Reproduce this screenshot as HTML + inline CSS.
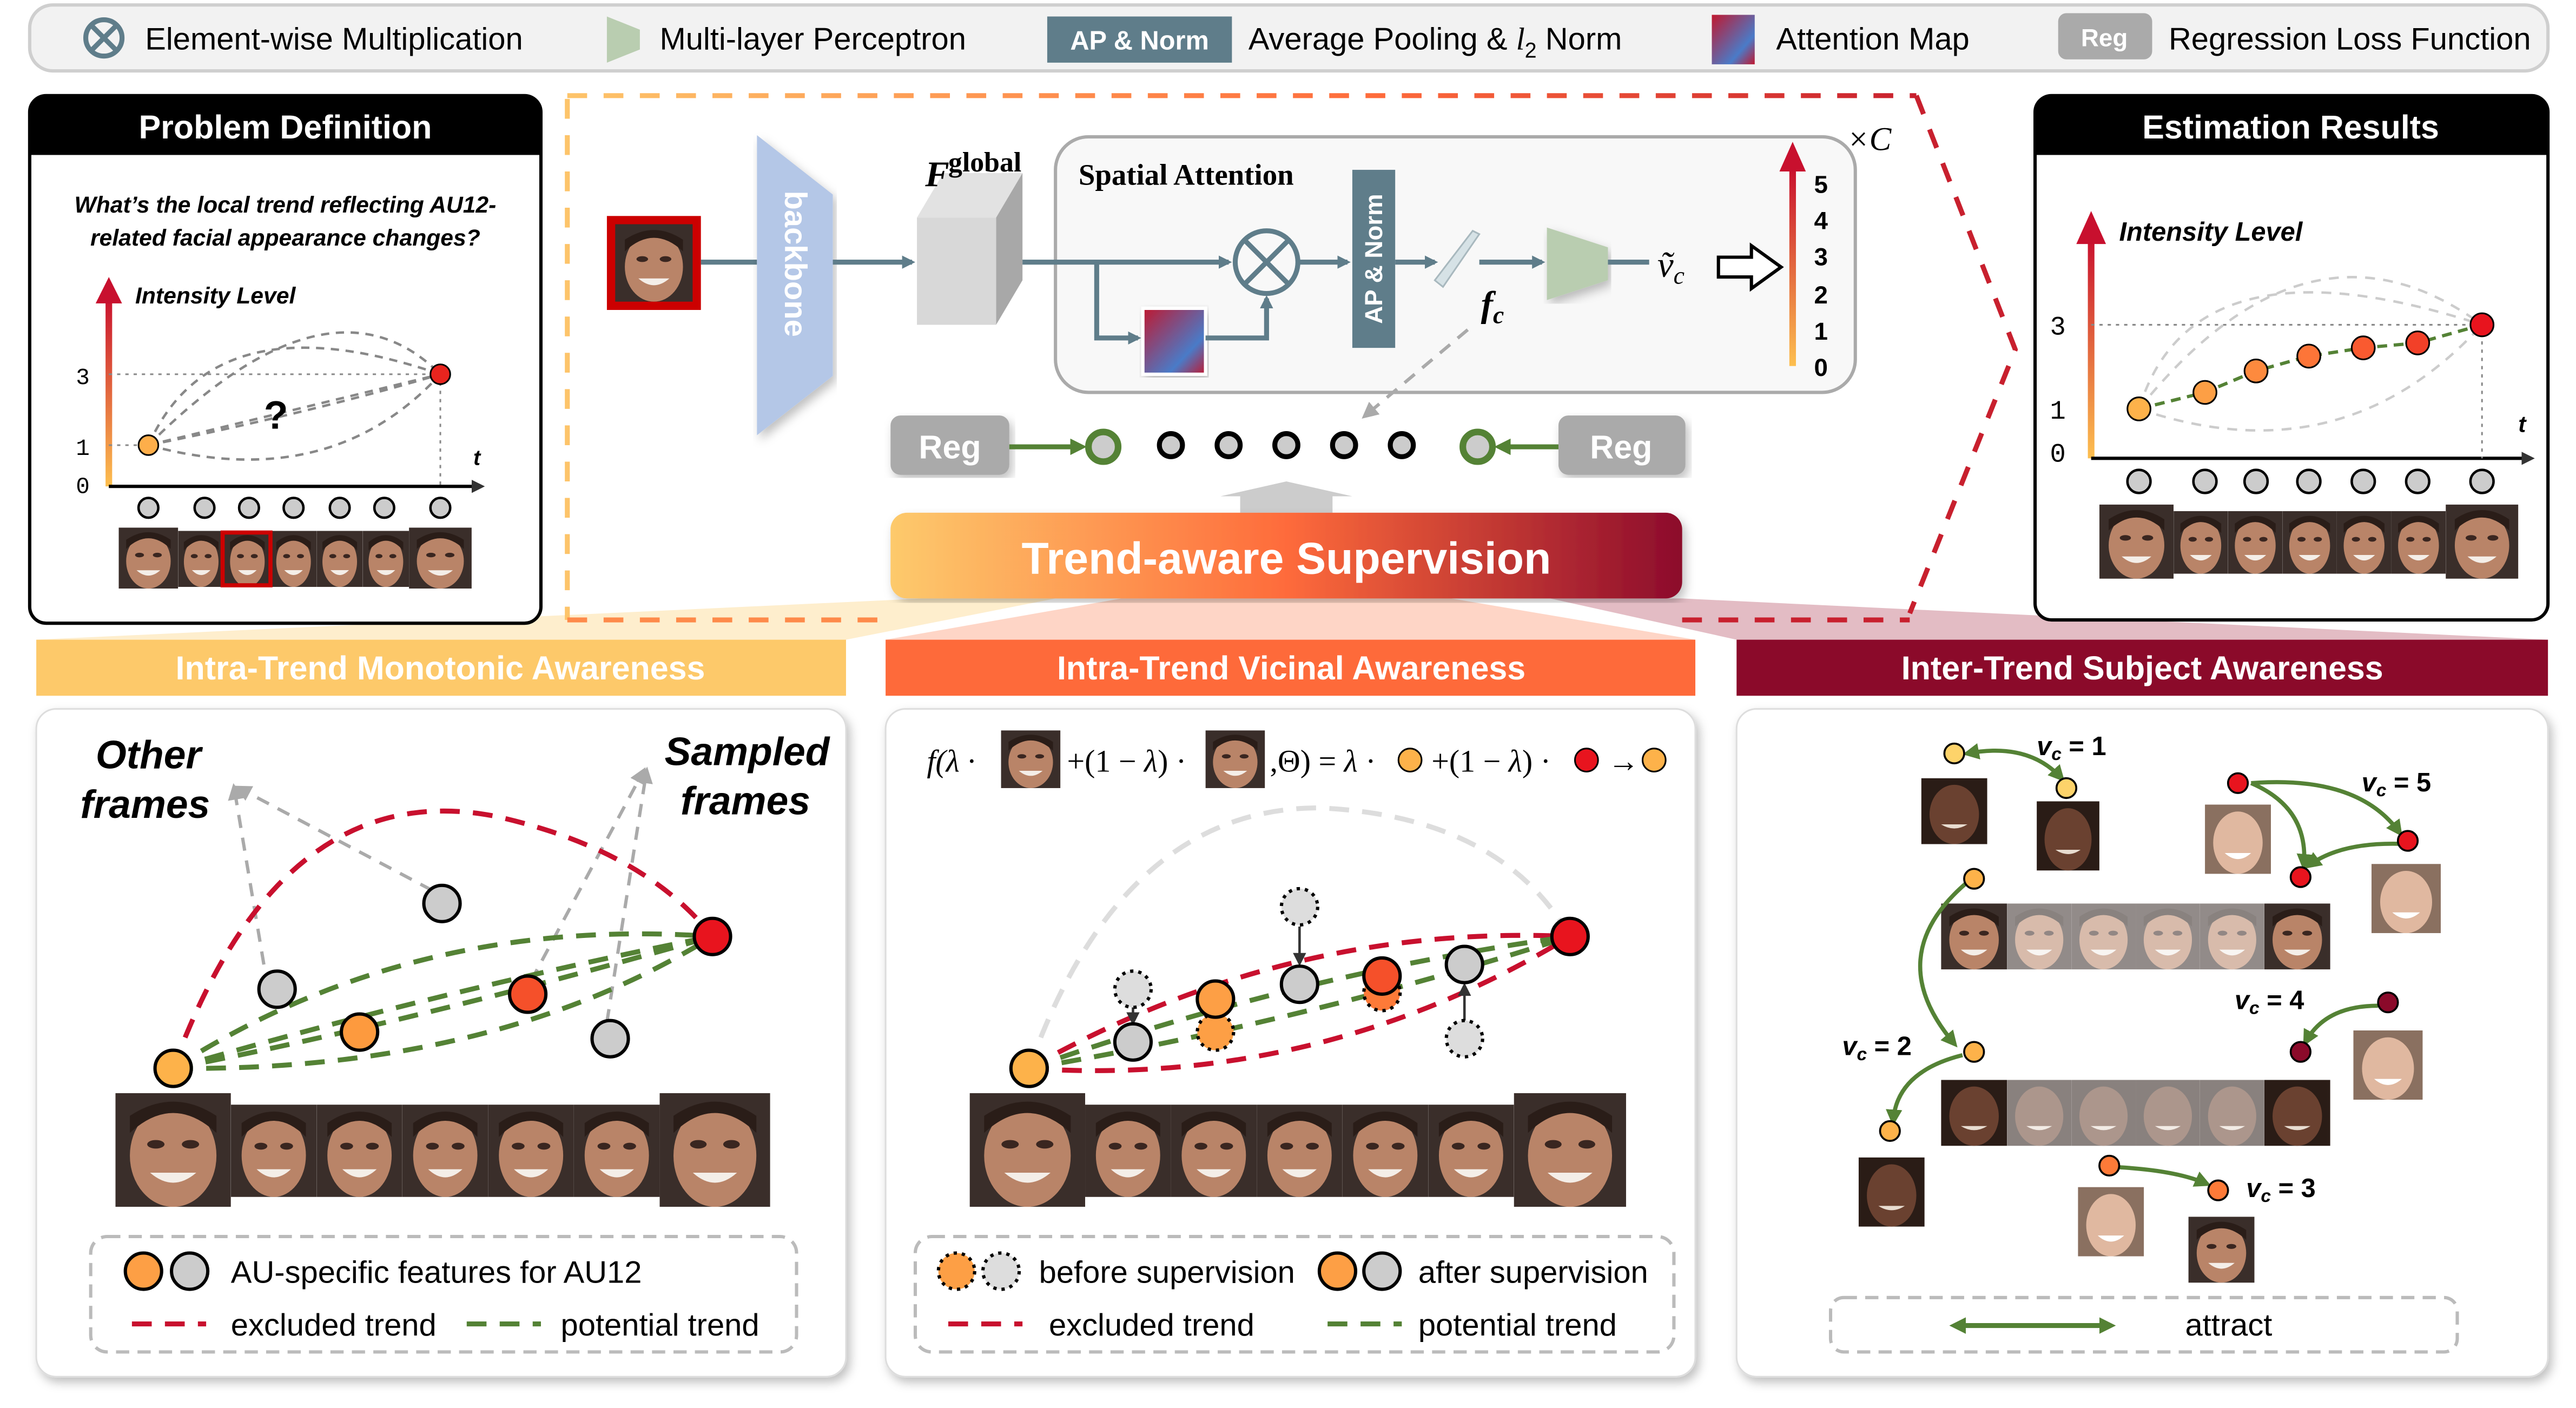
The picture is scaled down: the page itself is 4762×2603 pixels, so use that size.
<!DOCTYPE html>
<html><head><meta charset="utf-8"><style>
html,body{margin:0;padding:0;background:#fff;}
svg{display:block;}
text{font-family:"Liberation Sans",sans-serif;}
.serif{font-family:"Liberation Serif",serif;}
.mono{font-family:"Liberation Mono",monospace;}
</style></head><body>
<svg width="4762" height="2603" viewBox="0 0 1562 854" preserveAspectRatio="none" xmlns="http://www.w3.org/2000/svg">
<defs>
<symbol id="face" viewBox="0 0 40 40" preserveAspectRatio="none">
<rect width="40" height="40" fill="#3a2e2a"/>
<ellipse cx="20" cy="22" rx="15" ry="18" fill="#b98468"/>
<path d="M5 14 Q20 0 35 14 L35 8 Q20 -2 5 8Z" fill="#2a1d18"/>
<ellipse cx="14" cy="18" rx="3" ry="1.5" fill="#3a2620"/><ellipse cx="26" cy="18" rx="3" ry="1.5" fill="#3a2620"/>
<path d="M12 28 Q20 35 28 28 Z" fill="#f4eee8"/>
</symbol>
<symbol id="faced" viewBox="0 0 40 40" preserveAspectRatio="none">
<rect width="40" height="40" fill="#2a1c16"/>
<ellipse cx="20" cy="22" rx="15" ry="18" fill="#6a4130"/>
<path d="M12 28 Q20 33 28 28 Z" fill="#e8dcd0"/>
</symbol>
<symbol id="facel" viewBox="0 0 40 40" preserveAspectRatio="none">
<rect width="40" height="40" fill="#8a7060"/>
<ellipse cx="20" cy="22" rx="15" ry="18" fill="#e0b8a0"/>
<path d="M12 28 Q20 35 28 28 Z" fill="#fff"/>
</symbol>
<linearGradient id="ban" x1="0" x2="1"><stop offset="0" stop-color="#fdca6c"/><stop offset="0.5" stop-color="#fe6b3b"/><stop offset="1" stop-color="#8c0b2c"/></linearGradient>
<linearGradient id="axis" x1="0" y1="1" x2="0" y2="0"><stop offset="0" stop-color="#fdbf4f"/><stop offset="1" stop-color="#c8102e"/></linearGradient>
<linearGradient id="att" x1="0" y1="0" x2="1" y2="1"><stop offset="0" stop-color="#c0182f"/><stop offset="0.7" stop-color="#4a7bc8"/><stop offset="1" stop-color="#c0182f"/></linearGradient>
<linearGradient id="topd" gradientUnits="userSpaceOnUse" x1="344" y1="0" x2="1162" y2="0"><stop offset="0" stop-color="#fdc46a"/><stop offset="0.6" stop-color="#fe6b3b"/><stop offset="1" stop-color="#c8202e"/></linearGradient>
<marker id="ag" markerWidth="8" markerHeight="8" refX="6" refY="4" orient="auto" markerUnits="userSpaceOnUse"><path d="M0 0L8 4L0 8Z" fill="#5f7d8a"/></marker>
<marker id="agr" markerWidth="10" markerHeight="10" refX="7" refY="5" orient="auto-start-reverse" markerUnits="userSpaceOnUse"><path d="M0 0L10 5L0 10Z" fill="#548235"/></marker>
<marker id="agy" markerWidth="10" markerHeight="10" refX="7" refY="5" orient="auto" markerUnits="userSpaceOnUse"><path d="M0 0L10 5L0 10Z" fill="#aaa"/></marker>
<marker id="abk" markerWidth="8" markerHeight="8" refX="6" refY="4" orient="auto" markerUnits="userSpaceOnUse"><path d="M0 0L8 4L0 8Z" fill="#333"/></marker>
<filter id="sh" x="-5%" y="-5%" width="110%" height="110%"><feDropShadow dx="2" dy="3" stdDeviation="3" flood-color="#000" flood-opacity="0.25"/></filter>
</defs>

<rect x="18" y="3" width="1527" height="40" rx="14" fill="#f2f2f2" stroke="#cfcfcf" stroke-width="2"/>
<circle cx="63" cy="23" r="11" fill="none" stroke="#5f7d8a" stroke-width="3"/>
<path d="M55 15L71 31M71 15L55 31" stroke="#5f7d8a" stroke-width="3"/>
<text x="88" y="30" font-size="19">Element-wise Multiplication</text>
<polygon points="368,10 388,18 388,30 368,38" fill="#b9cdb0"/>
<text x="400" y="30" font-size="19">Multi-layer Perceptron</text>
<rect x="635" y="10" width="112" height="28" fill="#5f7d8a"/>
<text x="691" y="30" font-size="16" font-weight="bold" fill="#fff" text-anchor="middle">AP &amp; Norm</text>
<text x="757" y="30" font-size="19">Average Pooling &amp; <tspan font-style="italic" class="serif">l</tspan><tspan font-size="13" dy="5">2</tspan><tspan dy="-5"> Norm</tspan></text>
<rect x="1038" y="9" width="26" height="30" fill="url(#att)"/>
<text x="1077" y="30" font-size="19">Attention Map</text>
<rect x="1248" y="8" width="57" height="28" rx="5" fill="#aaa"/>
<text x="1276" y="28" font-size="15" font-weight="bold" fill="#fff" text-anchor="middle">Reg</text>
<text x="1315" y="30" font-size="19">Regression Loss Function</text>

<polygon points="560,363 640,363 513,388 22,388" fill="#fde7b8" opacity="0.7"/>
<polygon points="680,363 880,363 1028,388 537,388" fill="#fdb9a0" opacity="0.6"/>
<polygon points="940,363 1020,363 1545,388 1053,388" fill="#c87a8a" opacity="0.5"/>

<line x1="344" y1="60" x2="344" y2="376" stroke="#fdc46a" stroke-width="3" stroke-dasharray="12,10"/>
<line x1="344" y1="58" x2="1162" y2="58" stroke="url(#topd)" stroke-width="3" stroke-dasharray="12,10"/>
<polyline points="1162,58 1222,212 1158,372" fill="none" stroke="#c8202e" stroke-width="3" stroke-dasharray="12,10"/>
<line x1="344" y1="376" x2="540" y2="376" stroke="#fe8a4a" stroke-width="3" stroke-dasharray="12,10"/>
<line x1="1020" y1="376" x2="1158" y2="376" stroke="#c8202e" stroke-width="3" stroke-dasharray="12,10"/>

<rect x="18" y="58" width="310" height="320" rx="10" fill="#fff" stroke="#000" stroke-width="2"/>
<path d="M28 58H318Q328 58 328 68V94H18V68Q18 58 28 58Z" fill="#000"/>
<text x="173" y="84" font-size="20" font-weight="bold" fill="#fff" text-anchor="middle">Problem Definition</text>
<text x="173" y="129" font-size="14" font-weight="bold" font-style="italic" text-anchor="middle">What’s the local trend reflecting AU12-</text>
<text x="173" y="149" font-size="14" font-weight="bold" font-style="italic" text-anchor="middle">related facial appearance changes?</text>
<rect x="64" y="180" width="4" height="115" fill="url(#axis)"/>
<polygon points="58,184 66,168 74,184" fill="#c8102e"/>
<text x="82" y="184" font-size="14" font-weight="bold" font-style="italic">Intensity Level</text>
<text x="46" y="233" font-size="14" class="mono">3</text>
<text x="46" y="276" font-size="14" class="mono">1</text>
<text x="46" y="299" font-size="14" class="mono">0</text>
<line x1="66" y1="295" x2="292" y2="295" stroke="#000" stroke-width="2" marker-end="url(#abk)"/>
<text x="287" y="282" font-size="13" font-weight="bold" font-style="italic">t</text>
<line x1="66" y1="227" x2="267" y2="227" stroke="#888" stroke-dasharray="2,3"/>
<line x1="267" y1="227" x2="267" y2="295" stroke="#888" stroke-dasharray="2,3"/>
<line x1="66" y1="270" x2="90" y2="270" stroke="#888" stroke-dasharray="2,3"/>
<g fill="none" stroke="#888" stroke-width="1.5" stroke-dasharray="5,4">
<path d="M90 270 Q130 180 267 227"/><path d="M90 270 Q200 160 267 227"/><path d="M90 270 Q190 250 267 227"/><path d="M90 270 Q200 300 267 227"/><path d="M90 270 L267 227"/>
</g>
<text x="160" y="260" font-size="24" font-weight="bold">?</text>
<circle cx="90" cy="270" r="6" fill="#fdae4a" stroke="#000"/>
<circle cx="267" cy="227" r="6" fill="#e8241e" stroke="#000"/>
<g fill="#ccc" stroke="#000" stroke-width="1.5">
<circle cx="90" cy="308" r="6"/><circle cx="124" cy="308" r="6"/><circle cx="151" cy="308" r="6"/><circle cx="178" cy="308" r="6"/><circle cx="206" cy="308" r="6"/><circle cx="233" cy="308" r="6"/><circle cx="267" cy="308" r="6"/>
</g>
<use href="#face" x="72" y="320" width="36" height="37"/><use href="#face" x="108" y="322" width="28" height="34"/><use href="#face" x="136" y="322" width="28" height="34"/><use href="#face" x="164" y="322" width="28" height="34"/><use href="#face" x="192" y="322" width="28" height="34"/><use href="#face" x="220" y="322" width="28" height="34"/><use href="#face" x="248" y="320" width="38" height="37"/>
<rect x="135" y="323" width="29" height="32" fill="none" stroke="#c00" stroke-width="2.5"/>

<rect x="1234" y="58" width="311" height="318" rx="10" fill="#fff" stroke="#000" stroke-width="2"/>
<path d="M1244 58H1535Q1545 58 1545 68V94H1234V68Q1234 58 1244 58Z" fill="#000"/>
<text x="1389" y="84" font-size="20" font-weight="bold" fill="#fff" text-anchor="middle">Estimation Results</text>
<rect x="1266" y="145" width="4" height="133" fill="url(#axis)"/>
<polygon points="1259,148 1268,128 1277,148" fill="#c8102e"/>
<text x="1285" y="146" font-size="16" font-weight="bold" font-style="italic">Intensity Level</text>
<text x="1243" y="203" font-size="16" class="mono">3</text>
<text x="1243" y="254" font-size="16" class="mono">1</text>
<text x="1243" y="280" font-size="16" class="mono">0</text>
<line x1="1268" y1="278" x2="1535" y2="278" stroke="#000" stroke-width="2" marker-end="url(#abk)"/>
<text x="1527" y="262" font-size="14" font-weight="bold" font-style="italic">t</text>
<line x1="1268" y1="197" x2="1505" y2="197" stroke="#888" stroke-dasharray="2,3"/>
<line x1="1505" y1="197" x2="1505" y2="278" stroke="#888" stroke-dasharray="2,3"/>
<g fill="none" stroke="#ccc" stroke-width="1.5" stroke-dasharray="6,5">
<path d="M1297 248 Q1330 140 1505 197"/><path d="M1297 248 Q1400 120 1505 197"/><path d="M1297 248 Q1420 290 1505 197"/>
</g>
<polyline points="1297,248 1337,238 1368,225 1400,216 1433,211 1466,208 1505,197" fill="none" stroke="#548235" stroke-width="2" stroke-dasharray="6,4"/>
<circle cx="1297" cy="248" r="7" fill="#fdb24a" stroke="#000"/><circle cx="1337" cy="238" r="7" fill="#fd9f45" stroke="#000"/><circle cx="1368" cy="225" r="7" fill="#fd8a3e" stroke="#000"/><circle cx="1400" cy="216" r="7" fill="#fd7538" stroke="#000"/><circle cx="1433" cy="211" r="7" fill="#fa5a30" stroke="#000"/><circle cx="1466" cy="208" r="7" fill="#f24028" stroke="#000"/><circle cx="1505" cy="197" r="7" fill="#e8141e" stroke="#000"/>
<g fill="#ccc" stroke="#000" stroke-width="1.5">
<circle cx="1297" cy="292" r="7"/><circle cx="1337" cy="292" r="7"/><circle cx="1368" cy="292" r="7"/><circle cx="1400" cy="292" r="7"/><circle cx="1433" cy="292" r="7"/><circle cx="1466" cy="292" r="7"/><circle cx="1505" cy="292" r="7"/>
</g>
<use href="#face" x="1273" y="306" width="45" height="45"/><use href="#face" x="1318" y="310" width="33" height="38"/><use href="#face" x="1351" y="310" width="33" height="38"/><use href="#face" x="1384" y="310" width="33" height="38"/><use href="#face" x="1417" y="310" width="33" height="38"/><use href="#face" x="1450" y="310" width="33" height="38"/><use href="#face" x="1483" y="306" width="44" height="45"/>

<rect x="368" y="131" width="57" height="57" fill="#c00"/>
<use href="#face" x="373" y="136" width="47" height="47"/>
<line x1="425" y1="159" x2="459" y2="159" stroke="#5f7d8a" stroke-width="3"/>
<polygon points="459,82 505,118 505,228 459,264" fill="#b4c7e7" filter="url(#sh)"/>
<text transform="translate(476,160) rotate(90)" font-size="19" font-weight="bold" fill="#fff" text-anchor="middle">backbone</text>
<line x1="505" y1="159" x2="553" y2="159" stroke="#5f7d8a" stroke-width="3" marker-end="url(#ag)"/>
<polygon points="556,132 572,105 620,105 604,132" fill="#e2e2e2"/>
<polygon points="604,132 620,105 620,170 604,197" fill="#a8a8a8"/>
<rect x="556" y="132" width="48" height="65" fill="#d8d8d8"/>
<text x="561" y="113" font-size="22" font-weight="bold" font-style="italic" class="serif">F</text>
<text x="575" y="104" font-size="17" font-weight="bold" class="serif">global</text>
<rect x="640" y="83" width="485" height="155" rx="20" fill="#f8f8f8" stroke="#aaa" stroke-width="2"/>
<text x="654" y="112" font-size="18" font-weight="bold" class="serif">Spatial Attention</text>
<line x1="620" y1="159" x2="745" y2="159" stroke="#5f7d8a" stroke-width="3" marker-end="url(#ag)"/>
<circle cx="768" cy="159" r="19" fill="none" stroke="#5f7d8a" stroke-width="3"/>
<path d="M755 146L781 172M781 146L755 172" stroke="#5f7d8a" stroke-width="3"/>
<polyline points="665,159 665,205 690,205" fill="none" stroke="#5f7d8a" stroke-width="3" marker-end="url(#ag)"/>
<rect x="693" y="187" width="38" height="40" fill="url(#att)" stroke="#fff" stroke-width="2" filter="url(#sh)"/>
<polyline points="731,205 768,205 768,181" fill="none" stroke="#5f7d8a" stroke-width="3" marker-end="url(#ag)"/>
<line x1="788" y1="159" x2="817" y2="159" stroke="#5f7d8a" stroke-width="3" marker-end="url(#ag)"/>
<rect x="820" y="103" width="26" height="108" fill="#5f7d8a"/>
<text transform="translate(838,157) rotate(-90)" font-size="15" font-weight="bold" fill="#fff" text-anchor="middle">AP &amp; Norm</text>
<line x1="846" y1="159" x2="870" y2="159" stroke="#5f7d8a" stroke-width="3" marker-end="url(#ag)"/>
<polygon points="870,170 893,140 897,142 875,174" fill="#d6e2e6" stroke="#a8b8be"/>
<line x1="897" y1="159" x2="935" y2="159" stroke="#5f7d8a" stroke-width="3" marker-end="url(#ag)"/>
<polygon points="938,138 975,150 975,170 938,182" fill="#b9cdb0" filter="url(#sh)"/>
<line x1="975" y1="159" x2="1000" y2="159" stroke="#5f7d8a" stroke-width="3"/>
<text x="898" y="192" font-size="22" font-weight="bold" font-style="italic" class="serif">f<tspan font-size="15" dy="4">c</tspan></text>
<text x="1005" y="168" font-size="22" font-style="italic" class="serif">ṽ<tspan font-size="15" dy="4">c</tspan></text>
<polygon points="1042,156 1062,156 1062,149 1080,162 1062,175 1062,168 1042,168" fill="#fff" stroke="#000" stroke-width="2"/>
<rect x="1085" y="102" width="4" height="120" fill="url(#axis)"/>
<polygon points="1079,104 1087,86 1095,104" fill="#c8102e"/>
<g font-size="15" class="mono" font-weight="bold"><text x="1100" y="117">5</text><text x="1100" y="139">4</text><text x="1100" y="161">3</text><text x="1100" y="184">2</text><text x="1100" y="206">1</text><text x="1100" y="228">0</text></g>
<text x="1120" y="91" font-size="20" font-style="italic" class="serif">×C</text>
<line x1="890" y1="200" x2="828" y2="252" stroke="#aaa" stroke-width="2" stroke-dasharray="8,6" marker-end="url(#agy)"/>
<rect x="540" y="252" width="72" height="36" rx="6" fill="#aaa" filter="url(#sh)"/>
<text x="576" y="278" font-size="20" font-weight="bold" fill="#fff" text-anchor="middle">Reg</text>
<rect x="945" y="252" width="77" height="36" rx="6" fill="#aaa" filter="url(#sh)"/>
<text x="983" y="278" font-size="20" font-weight="bold" fill="#fff" text-anchor="middle">Reg</text>
<line x1="612" y1="271" x2="656" y2="271" stroke="#548235" stroke-width="3" marker-end="url(#agr)"/>
<line x1="945" y1="271" x2="909" y2="271" stroke="#548235" stroke-width="3" marker-end="url(#agr)"/>
<circle cx="669" cy="271" r="9" fill="#ccc" stroke="#548235" stroke-width="4"/>
<circle cx="896" cy="271" r="9" fill="#ccc" stroke="#548235" stroke-width="4"/>
<g fill="#ccc" stroke="#000" stroke-width="3"><circle cx="710" cy="270" r="7"/><circle cx="745" cy="270" r="7"/><circle cx="780" cy="270" r="7"/><circle cx="815" cy="270" r="7"/><circle cx="850" cy="270" r="7"/></g>
<polygon points="740,301 780,292 820,301 808,301 808,311 752,311 752,301" fill="#ccc"/>
<rect x="540" y="311" width="480" height="52" rx="10" fill="url(#ban)" filter="url(#sh)"/>
<text x="780" y="348" font-size="27" font-weight="bold" fill="#fff" text-anchor="middle">Trend-aware Supervision</text>

<rect x="22" y="388" width="491" height="34" fill="#fdc96a"/>
<text x="267" y="412" font-size="20" font-weight="bold" fill="#fff" text-anchor="middle">Intra-Trend Monotonic Awareness</text>
<rect x="537" y="388" width="491" height="34" fill="#fe6a3a"/>
<text x="783" y="412" font-size="20" font-weight="bold" fill="#fff" text-anchor="middle">Intra-Trend Vicinal Awareness</text>
<rect x="1053" y="388" width="492" height="34" fill="#8b0a2a"/>
<text x="1299" y="412" font-size="20" font-weight="bold" fill="#fff" text-anchor="middle">Inter-Trend Subject Awareness</text>

<rect x="22" y="430" width="491" height="405" rx="12" fill="#fff" stroke="#ddd" filter="url(#sh)"/>
<rect x="537" y="430" width="491" height="405" rx="12" fill="#fff" stroke="#ddd" filter="url(#sh)"/>
<rect x="1053" y="430" width="492" height="405" rx="12" fill="#fff" stroke="#ddd" filter="url(#sh)"/>

<g class="serif" font-size="24" font-weight="bold" font-style="italic">
<text x="90" y="466" text-anchor="middle">Other</text><text x="88" y="496" text-anchor="middle">frames</text>
<text x="453" y="464" text-anchor="middle">Sampled</text><text x="452" y="494" text-anchor="middle">frames</text>
</g>
<g stroke="#aaa" stroke-width="2" stroke-dasharray="8,6" fill="none">
<line x1="160" y1="585" x2="142" y2="478" marker-end="url(#agy)"/>
<line x1="262" y1="540" x2="145" y2="478" marker-end="url(#agy)"/>
<line x1="322" y1="595" x2="390" y2="468" marker-end="url(#agy)"/>
<line x1="368" y1="620" x2="392" y2="468" marker-end="url(#agy)"/>
</g>
<path d="M105 648 Q170 470 300 495 Q390 515 432 568" fill="none" stroke="#c8102e" stroke-width="3" stroke-dasharray="12,8"/>
<g fill="none" stroke="#548235" stroke-width="3" stroke-dasharray="12,8">
<path d="M105 648 Q250 555 432 568"/><path d="M105 648 Q270 600 432 568"/><path d="M105 648 Q300 650 432 568"/><path d="M105 648 Q250 620 432 568"/>
</g>
<circle cx="168" cy="600" r="11" fill="#ccc" stroke="#000" stroke-width="2"/>
<circle cx="268" cy="548" r="11" fill="#ccc" stroke="#000" stroke-width="2"/>
<circle cx="370" cy="630" r="11" fill="#ccc" stroke="#000" stroke-width="2"/>
<circle cx="218" cy="626" r="11" fill="#fd9a3e" stroke="#000" stroke-width="2"/>
<circle cx="320" cy="603" r="11" fill="#f5502a" stroke="#000" stroke-width="2"/>
<circle cx="105" cy="648" r="11" fill="#fdb24a" stroke="#000" stroke-width="2"/>
<circle cx="432" cy="568" r="11" fill="#e8141e" stroke="#000" stroke-width="2"/>
<use href="#face" x="70" y="663" width="70" height="69"/><use href="#face" x="140" y="670" width="52" height="56"/><use href="#face" x="192" y="670" width="52" height="56"/><use href="#face" x="244" y="670" width="52" height="56"/><use href="#face" x="296" y="670" width="52" height="56"/><use href="#face" x="348" y="670" width="52" height="56"/><use href="#face" x="400" y="663" width="67" height="69"/>
<rect x="55" y="750" width="428" height="70" rx="10" fill="none" stroke="#bbb" stroke-width="2" stroke-dasharray="8,5"/>
<circle cx="87" cy="771" r="11" fill="#fd9f45" stroke="#000" stroke-width="2"/>
<circle cx="115" cy="771" r="11" fill="#ccc" stroke="#000" stroke-width="2"/>
<text x="140" y="778" font-size="19">AU-specific features for AU12</text>
<line x1="80" y1="803" x2="125" y2="803" stroke="#c8102e" stroke-width="3" stroke-dasharray="12,8"/>
<text x="140" y="810" font-size="19">excluded trend</text>
<line x1="283" y1="803" x2="328" y2="803" stroke="#548235" stroke-width="3" stroke-dasharray="12,8"/>
<text x="340" y="810" font-size="19">potential trend</text>

<text x="562" y="468" font-size="19" class="serif" font-style="italic">f(λ ·</text>
<use href="#face" x="607" y="443" width="36" height="35"/>
<text x="647" y="468" font-size="19" class="serif">+(1 − <tspan font-style="italic">λ</tspan>) ·</text>
<use href="#face" x="731" y="443" width="36" height="35"/>
<text x="770" y="468" font-size="19" class="serif">,Θ) = <tspan font-style="italic">λ</tspan> ·</text>
<circle cx="855" cy="461" r="7" fill="#fdb24a" stroke="#000"/>
<text x="868" y="468" font-size="19" class="serif">+(1 − <tspan font-style="italic">λ</tspan>) ·</text>
<circle cx="962" cy="461" r="7" fill="#e8141e" stroke="#000"/>
<text x="975" y="468" font-size="19" class="serif">→</text>
<circle cx="1003" cy="461" r="7" fill="#fdb24a" stroke="#000"/>
<path d="M624 648 Q680 490 800 490 Q910 495 952 568" fill="none" stroke="#ddd" stroke-width="3" stroke-dasharray="12,8"/>
<g fill="none" stroke="#c8102e" stroke-width="3" stroke-dasharray="12,8">
<path d="M624 648 Q780 560 952 568"/><path d="M624 648 Q800 660 952 568"/>
</g>
<g fill="none" stroke="#548235" stroke-width="3" stroke-dasharray="12,8">
<path d="M624 648 Q790 590 952 568"/><path d="M624 648 Q790 620 952 568"/>
</g>
<g stroke="#333" stroke-width="1.5" marker-end="url(#abk)">
<line x1="687" y1="611" x2="687" y2="620"/><line x1="788" y1="562" x2="788" y2="584"/><line x1="888" y1="619" x2="888" y2="598"/>
</g>
<g stroke="#000" stroke-width="2" stroke-dasharray="2,3">
<circle cx="687" cy="600" r="11" fill="#ddd"/><circle cx="737" cy="626" r="11" fill="#fd9f45"/><circle cx="788" cy="550" r="11" fill="#ddd"/><circle cx="838" cy="602" r="11" fill="#fd7a38"/><circle cx="888" cy="630" r="11" fill="#ddd"/>
</g>
<g stroke="#000" stroke-width="2">
<circle cx="687" cy="632" r="11" fill="#ccc"/><circle cx="737" cy="606" r="11" fill="#fd9f45"/><circle cx="788" cy="597" r="11" fill="#ccc"/><circle cx="838" cy="592" r="11" fill="#f5502a"/><circle cx="888" cy="585" r="11" fill="#ccc"/>
</g>
<circle cx="624" cy="648" r="11" fill="#fdb24a" stroke="#000" stroke-width="2"/>
<circle cx="952" cy="568" r="11" fill="#e8141e" stroke="#000" stroke-width="2"/>
<use href="#face" x="588" y="663" width="70" height="69"/><use href="#face" x="658" y="670" width="52" height="56"/><use href="#face" x="710" y="670" width="52" height="56"/><use href="#face" x="762" y="670" width="52" height="56"/><use href="#face" x="814" y="670" width="52" height="56"/><use href="#face" x="866" y="670" width="52" height="56"/><use href="#face" x="918" y="663" width="68" height="69"/>
<rect x="555" y="750" width="460" height="70" rx="10" fill="none" stroke="#bbb" stroke-width="2" stroke-dasharray="8,5"/>
<circle cx="580" cy="771" r="11" fill="#fd9f45" stroke="#000" stroke-width="2" stroke-dasharray="2,3"/>
<circle cx="607" cy="771" r="11" fill="#ddd" stroke="#000" stroke-width="2" stroke-dasharray="2,3"/>
<text x="630" y="778" font-size="19">before supervision</text>
<circle cx="811" cy="771" r="11" fill="#fd9f45" stroke="#000" stroke-width="2"/>
<circle cx="838" cy="771" r="11" fill="#ccc" stroke="#000" stroke-width="2"/>
<text x="860" y="778" font-size="19">after supervision</text>
<line x1="575" y1="803" x2="620" y2="803" stroke="#c8102e" stroke-width="3" stroke-dasharray="12,8"/>
<text x="636" y="810" font-size="19">excluded trend</text>
<line x1="805" y1="803" x2="850" y2="803" stroke="#548235" stroke-width="3" stroke-dasharray="12,8"/>
<text x="860" y="810" font-size="19">potential trend</text>

<use href="#faced" x="1165" y="472" width="40" height="40"/>
<use href="#faced" x="1235" y="486" width="38" height="42"/>
<use href="#facel" x="1337" y="488" width="40" height="42"/>
<use href="#facel" x="1438" y="524" width="42" height="42"/>
<g opacity="0.55">
<use href="#face" x="1217" y="548" width="39" height="40"/><use href="#face" x="1256" y="548" width="39" height="40"/><use href="#face" x="1295" y="548" width="39" height="40"/><use href="#face" x="1334" y="548" width="39" height="40"/>
<use href="#faced" x="1217" y="655" width="39" height="40"/><use href="#faced" x="1256" y="655" width="39" height="40"/><use href="#faced" x="1295" y="655" width="39" height="40"/><use href="#faced" x="1334" y="655" width="39" height="40"/>
</g>
<use href="#face" x="1177" y="548" width="40" height="40"/><use href="#face" x="1373" y="548" width="40" height="40"/>
<use href="#facel" x="1427" y="625" width="42" height="42"/>
<use href="#faced" x="1177" y="655" width="40" height="40"/><use href="#faced" x="1373" y="655" width="40" height="40"/>
<use href="#faced" x="1127" y="702" width="40" height="42"/>
<use href="#facel" x="1260" y="720" width="40" height="42"/>
<use href="#face" x="1327" y="738" width="40" height="40"/>
<g fill="none" stroke="#548235" stroke-width="2.5">
<path d="M1193 457 Q1230 450 1250 472" marker-end="url(#agr)" marker-start="url(#agr)"/>
<path d="M1365 475 Q1400 490 1397 525" marker-end="url(#agr)"/>
<path d="M1365 475 Q1430 470 1455 505" marker-end="url(#agr)"/>
<path d="M1460 512 Q1420 510 1400 525" marker-end="url(#agr)"/>
<path d="M1193 535 Q1140 580 1185 633" marker-end="url(#agr)"/>
<path d="M1190 640 Q1150 650 1148 680" marker-end="url(#agr)"/>
<path d="M1442 610 Q1410 610 1398 632" marker-end="url(#agr)"/>
<path d="M1285 708 Q1320 710 1338 718" marker-end="url(#agr)"/>
</g>
<g stroke="#000" stroke-width="1.2">
<circle cx="1185" cy="457" r="6" fill="#fdd36a"/><circle cx="1253" cy="478" r="6" fill="#fdd36a"/>
<circle cx="1357" cy="475" r="6" fill="#e8141e"/><circle cx="1460" cy="510" r="6" fill="#e8141e"/><circle cx="1395" cy="532" r="6" fill="#e8141e"/>
<circle cx="1197" cy="533" r="6" fill="#fdb24a"/><circle cx="1197" cy="638" r="6" fill="#fdb24a"/><circle cx="1146" cy="686" r="6" fill="#fdb24a"/>
<circle cx="1448" cy="608" r="6" fill="#8b0a2a"/><circle cx="1395" cy="638" r="6" fill="#8b0a2a"/>
<circle cx="1279" cy="707" r="6" fill="#fd7a38"/><circle cx="1345" cy="722" r="6" fill="#fd7a38"/>
</g>
<g class="serif" font-size="16" font-weight="bold">
<text x="1235" y="458"><tspan font-style="italic">v<tspan font-size="11" dy="3">c</tspan></tspan><tspan dy="-3"> = 1</tspan></text>
<text x="1432" y="480"><tspan font-style="italic">v<tspan font-size="11" dy="3">c</tspan></tspan><tspan dy="-3"> = 5</tspan></text>
<text x="1355" y="612"><tspan font-style="italic">v<tspan font-size="11" dy="3">c</tspan></tspan><tspan dy="-3"> = 4</tspan></text>
<text x="1117" y="640"><tspan font-style="italic">v<tspan font-size="11" dy="3">c</tspan></tspan><tspan dy="-3"> = 2</tspan></text>
<text x="1362" y="726"><tspan font-style="italic">v<tspan font-size="11" dy="3">c</tspan></tspan><tspan dy="-3"> = 3</tspan></text>
</g>
<rect x="1110" y="787" width="380" height="33" rx="8" fill="none" stroke="#bbb" stroke-width="2" stroke-dasharray="8,5"/>
<line x1="1185" y1="804" x2="1280" y2="804" stroke="#548235" stroke-width="3" marker-end="url(#agr)" marker-start="url(#agr)"/>
<text x="1325" y="810" font-size="19">attract</text>
</svg>
</body></html>
